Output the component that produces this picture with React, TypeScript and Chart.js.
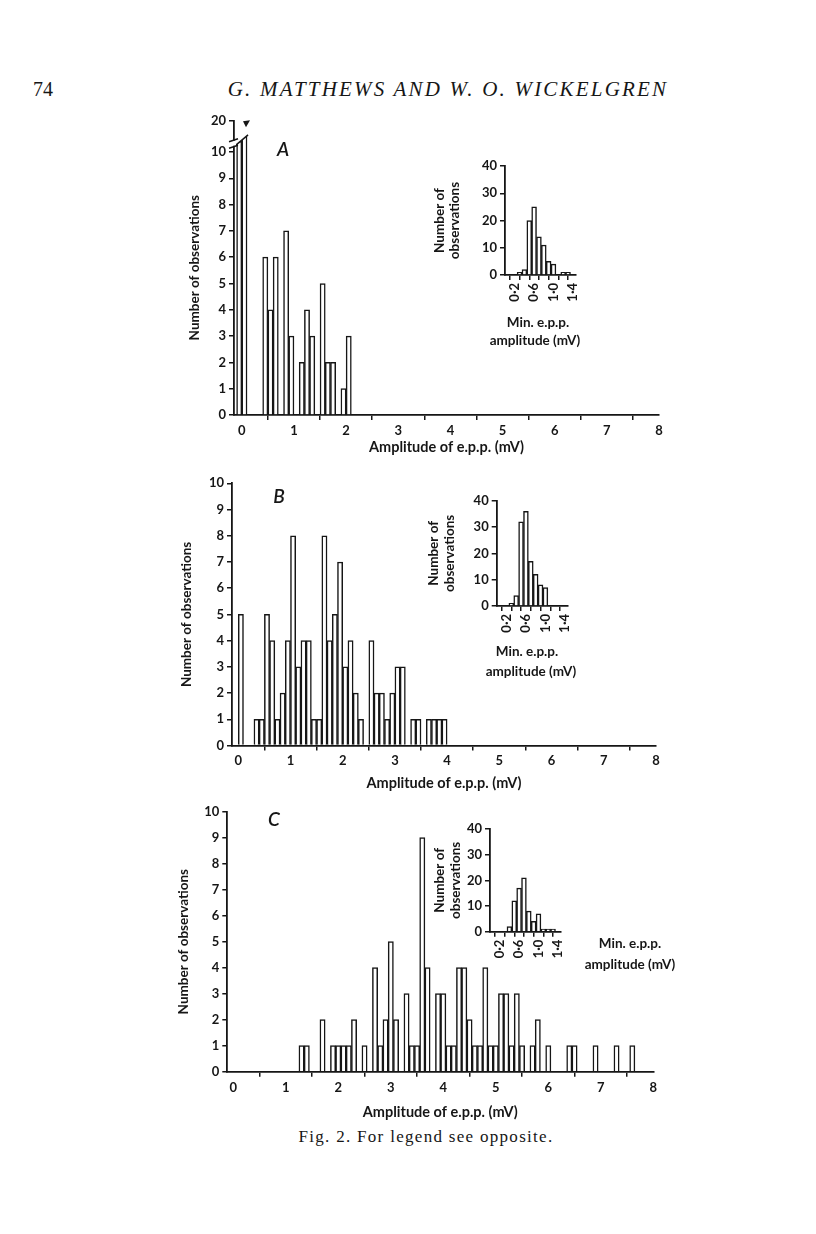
import React, { useEffect, useRef } from 'react';
import { Chart, registerables } from 'chart.js';

Chart.register(...registerables);

const INK = '#161616';
const SANS = 'Lato, "Open Sans", "DejaVu Sans", sans-serif';
const SERIF = '"Liberation Serif", "DejaVu Serif", serif';

// ---------------- data ----------------
const mainXTicks = [0, 1, 2, 3, 4, 5, 6, 7, 8];
const mainYTicks = [0, 1, 2, 3, 4, 5, 6, 7, 8, 9, 10];
const mainYTickLabels = ['0', '1', '2', '3', '4', '5', '6', '7', '8', '9', '10'];
const insetXTicks = [0.2, 0.4, 0.6, 0.8, 1.0, 1.2, 1.4];
const insetXTickLabels = ['0·2', '', '0·6', '', '1·0', '', '1·4'];
const insetYTicks = [0, 10, 20, 30, 40];
const insetYTickLabels = ['0', '10', '20', '30', '40'];

// Panel A (bins = lower edge, mV, width 0.1). First two bars run off the broken axis.
const binsA = [-0.1, 0.0, 0.4, 0.5, 0.6, 0.8, 0.9, 1.1, 1.2, 1.3, 1.5, 1.6, 1.7, 1.9, 2.0];
const countsA = [10.4, 10.6, 6, 4, 6, 7, 3, 2, 4, 3, 5, 2, 2, 1, 3];
const brokenTickA = 11.2;
const brokenTickLabelA = '20';

// Panel B (bins = lower edge, mV)
const binsB = [0.0, 0.3, 0.4, 0.5, 0.6, 0.7, 0.8, 0.9, 1.0, 1.1, 1.2, 1.3, 1.4, 1.5, 1.6, 1.7, 1.8, 1.9, 2.0, 2.1,
  2.2, 2.3, 2.5, 2.6, 2.7, 2.8, 2.9, 3.0, 3.1, 3.3, 3.4, 3.6, 3.7, 3.8, 3.9];
const countsB = [5, 1, 1, 5, 4, 1, 2, 4, 8, 3, 4, 4, 1, 1, 8, 4, 5, 7, 3, 4,
  2, 1, 4, 2, 2, 1, 2, 3, 3, 1, 1, 1, 1, 1, 1];

// Panel C (bins = centre, mV)
const binsC = [1.3, 1.4, 1.7, 1.9, 2.0, 2.1, 2.2, 2.3, 2.5, 2.7, 2.8, 2.9, 3.0, 3.1, 3.3, 3.4, 3.5, 3.6, 3.7, 3.9,
  4.0, 4.1, 4.2, 4.3, 4.4, 4.5, 4.6, 4.7, 4.8, 4.9, 5.0, 5.1, 5.2, 5.3, 5.4, 5.5, 5.7, 5.8, 6.0, 6.4,
  6.5, 6.9, 7.3, 7.6];
const countsC = [1, 1, 2, 1, 1, 1, 1, 2, 1, 4, 1, 2, 5, 2, 3, 1, 1, 9, 4, 3,
  3, 1, 1, 4, 4, 2, 1, 1, 4, 1, 1, 3, 3, 1, 3, 1, 1, 2, 1, 1,
  1, 1, 1, 1];

// Insets: minimum e.p.p. amplitude (bins = centre, mV)
const insetBinsA = [0.3, 0.4, 0.5, 0.6, 0.7, 0.8, 0.9, 1.0, 1.2, 1.3];
const insetCountsA = [1, 2, 20, 25, 14, 11, 5, 4, 1, 1];
const insetBinsB = [0.3, 0.4, 0.5, 0.6, 0.7, 0.8, 0.9, 1.0];
const insetCountsB = [1, 4, 32, 36, 17, 12, 8, 7];
const insetBinsC = [0.4, 0.5, 0.6, 0.7, 0.8, 0.9, 1.0, 1.1, 1.2, 1.3];
const insetCountsC = [2, 12, 17, 21, 8, 4, 7, 1, 1, 1];

const mainYTitle = 'Number of observations';
const mainXTitle = 'Amplitude of e.p.p. (mV)';
const insetYTitle = ['Number of', 'observations'];
const insetXTitle = ['Min. e.p.p.', 'amplitude (mV)'];

// ---------------- chart helper ----------------
type Spec = {
  L: number; T: number; R: number; B: number;
  xMin: number; xMax: number; yMax: number;
  xTicks: number[]; xTickLabels?: string[];
  yTicks: number[]; yTickLabels: string[];
  bins: number[]; counts: number[]; shift: number;
  yTitle: string | string[]; yTitleX: number; yTitleSize: number; yTitleLh: number;
  xTitle?: string | string[]; xTitleY?: number; xTitleSize?: number; xTitleLh?: number;
  xAxisH?: number;
  tickSize: number; rotate?: boolean;
  barBorder: number;
  plugins?: any[];
};

function geometry(s: Spec) {
  const left = Math.floor(s.yTitleX - s.yTitleLh / 2);
  const top = Math.floor(s.T - 14);
  const right = Math.ceil(s.R + 14);
  const nx = Array.isArray(s.xTitle) ? s.xTitle.length : 1;
  const bottom = s.xTitle
    ? Math.ceil((s.xTitleY as number) + (s.xTitleLh as number) / 2 + (s.xTitleLh as number) * (nx - 1))
    : Math.ceil(s.B + (s.xAxisH ?? 40));
  return { left, top, right, bottom, width: right - left, height: bottom - top };
}

function Hist({ spec }: { spec: Spec }) {
  const ref = useRef<HTMLCanvasElement | null>(null);
  const g = geometry(spec);
  useEffect(() => {
    const s = spec;
    const tickFont = { family: SANS, size: s.tickSize, weight: 'bold' as const };
    const nx = Array.isArray(s.xTitle) ? s.xTitle.length : 1;
    const xPb = s.xTitle
      ? g.bottom - (s.xTitleY as number) - (s.xTitleLh as number) / 2 - (s.xTitleLh as number) * (nx - 1)
      : 0;
    const yPt = s.yTitleX - s.yTitleLh / 2 - g.left;
    const chart = new Chart(ref.current as HTMLCanvasElement, {
      type: 'bar',
      data: {
        datasets: [{
          data: s.bins.map((b, i) => ({ x: b + s.shift, y: s.counts[i] })),
          backgroundColor: '#ffffff',
          borderColor: INK,
          borderWidth: s.barBorder,
          barPercentage: 1,
          categoryPercentage: 1,
        }],
      },
      options: {
        animation: false,
        responsive: false,
        maintainAspectRatio: false,
        devicePixelRatio: 1,
        events: [],
        layout: { padding: { left: 0, top: s.T - g.top, right: g.right - s.R, bottom: 0 } },
        plugins: { legend: { display: false }, tooltip: { enabled: false } },
        scales: {
          x: {
            type: 'linear',
            min: s.xMin,
            max: s.xMax,
            offset: false,
            afterBuildTicks: (sc: any) => { sc.ticks = s.xTicks.map((v) => ({ value: v })); },
            afterFit: (sc: any) => { sc.height = g.bottom - s.B; },
            ticks: {
              font: tickFont, color: INK, padding: 3, autoSkip: false,
              maxRotation: s.rotate ? 90 : 0, minRotation: s.rotate ? 90 : 0,
              callback: (v: any, i: number) => (s.xTickLabels ? s.xTickLabels[i] : String(s.xTicks[i])),
            },
            grid: { drawOnChartArea: false, drawTicks: true, tickLength: 5, color: INK, lineWidth: 1.5 },
            border: { display: true, color: INK, width: 1.8 },
            title: s.xTitle
              ? {
                  display: true, text: s.xTitle as any, color: INK,
                  font: { family: SANS, size: s.xTitleSize, weight: 'bold', lineHeight: (s.xTitleLh as number) / (s.xTitleSize as number) },
                  padding: { top: 0, bottom: xPb },
                }
              : { display: false },
          },
          y: {
            type: 'linear',
            min: 0,
            max: s.yMax,
            afterBuildTicks: (sc: any) => { sc.ticks = s.yTicks.map((v) => ({ value: v })); },
            afterFit: (sc: any) => { sc.width = s.L - g.left; },
            ticks: {
              font: tickFont, color: INK, padding: 3, autoSkip: false,
              callback: (v: any, i: number) => s.yTickLabels[i],
            },
            grid: { drawOnChartArea: false, drawTicks: true, tickLength: 5, color: INK, lineWidth: 1.5 },
            border: { display: true, color: INK, width: 1.8 },
            title: {
              display: true, text: s.yTitle as any, color: INK,
              font: { family: SANS, size: s.yTitleSize, weight: 'bold', lineHeight: s.yTitleLh / s.yTitleSize },
              padding: { top: yPt, bottom: 0 },
            },
          },
        },
      } as any,
      plugins: s.plugins ?? [],
    });
    return () => chart.destroy();
  }, []);
  return (
    <canvas
      ref={ref}
      width={g.width}
      height={g.height}
      style={{ position: 'absolute', left: g.left, top: g.top, width: g.width, height: g.height }}
    />
  );
}

// broken-axis marks for panel A
const breakPlugin = {
  id: 'axisBreakA',
  afterDatasetsDraw(chart: any) {
    const { ctx, scales } = chart;
    const x = scales.x, y = scales.y;
    const xa = x.getPixelForValue(-0.1) - 1;
    const xb = x.getPixelForValue(0.1) + 1;
    const yL = y.getPixelForValue(10.25);
    const yR = y.getPixelForValue(10.65);
    const slope = (yR - yL) / (xb - xa);
    ctx.save();
    ctx.fillStyle = '#ffffff';
    ctx.beginPath();
    ctx.moveTo(xa, yL);
    ctx.lineTo(xb, yR);
    ctx.lineTo(xb, y.getPixelForValue(11.0));
    ctx.lineTo(xa, y.getPixelForValue(11.0));
    ctx.closePath();
    ctx.fill();
    ctx.strokeStyle = INK;
    ctx.lineWidth = 1.5;
    ctx.beginPath();
    ctx.moveTo(xa, yL);
    ctx.lineTo(xb, yR);
    ctx.stroke();
    const ax = x.left;
    const g1 = yL + slope * (ax - xa);
    ctx.fillStyle = '#ffffff';
    ctx.fillRect(ax - 2, g1 - 6, 4, 5);
    ctx.beginPath();
    ctx.moveTo(ax - 5, g1 + 1.5);
    ctx.lineTo(ax + 4, g1 - 1.5);
    ctx.moveTo(ax - 5, g1 - 5);
    ctx.lineTo(ax + 4, g1 - 8);
    ctx.stroke();
    const ty = y.getPixelForValue(11.05);
    const tx = x.getPixelForValue(0.08);
    ctx.fillStyle = INK;
    ctx.beginPath();
    ctx.moveTo(tx - 3, ty - 3);
    ctx.lineTo(tx + 4, ty - 4);
    ctx.lineTo(tx, ty + 3);
    ctx.closePath();
    ctx.fill();
    ctx.restore();
  },
};

const mainCommon = {
  xTicks: mainXTicks, yTickLabels: mainYTickLabels, yTitle: mainYTitle, yTitleSize: 13.5, yTitleLh: 16,
  xTitle: mainXTitle, xTitleSize: 14.5, xTitleLh: 17, tickSize: 13, barBorder: 1.5,
};
const insetCommon = {
  xMin: 0, xMax: 1.45, yMax: 40, xTicks: insetXTicks, xTickLabels: insetXTickLabels,
  yTicks: insetYTicks, yTickLabels: insetYTickLabels, yTitle: insetYTitle, yTitleSize: 13.5,
  tickSize: 13, rotate: true, barBorder: 1.5, shift: 0, xAxisH: 38,
};

const specA: Spec = {
  ...mainCommon, L: 234, T: 120.4, R: 659, B: 415, xMin: -0.15, xMax: 8, yMax: brokenTickA,
  yTicks: [...mainYTicks, brokenTickA], yTickLabels: [...mainYTickLabels, brokenTickLabelA],
  bins: binsA, counts: countsA, shift: 0.05, yTitleX: 195, xTitleY: 447, plugins: [breakPlugin],
};
const specB: Spec = {
  ...mainCommon, L: 232, T: 483.3, R: 656, B: 745.5, xMin: -0.12, xMax: 8, yMax: 10,
  yTicks: mainYTicks, bins: binsB, counts: countsB, shift: 0.05, yTitleX: 187, xTitleY: 783,
};
const specC: Spec = {
  ...mainCommon, L: 227.3, T: 811.7, R: 653.3, B: 1071.7, xMin: -0.114, xMax: 8, yMax: 10,
  yTicks: mainYTicks, bins: binsC, counts: countsC, shift: 0, yTitleX: 184, xTitleY: 1112,
};
const insetA: Spec = {
  ...insetCommon, L: 505, T: 166, R: 577.5, B: 275, bins: insetBinsA, counts: insetCountsA,
  yTitleX: 440, yTitleLh: 15,
};
const insetB: Spec = {
  ...insetCommon, L: 496.7, T: 500.7, R: 569.2, B: 606, bins: insetBinsB, counts: insetCountsB,
  yTitleX: 434, yTitleLh: 16,
};
const insetC: Spec = {
  ...insetCommon, L: 490, T: 829, R: 562.5, B: 931.7, bins: insetBinsC, counts: insetCountsC,
  yTitleX: 440, yTitleLh: 16,
};

function Txt(props: { x: number; y: number; children: React.ReactNode; style?: React.CSSProperties }) {
  return (
    <div
      style={{
        position: 'absolute', left: props.x, top: props.y, transform: 'translate(-50%, -50%)',
        whiteSpace: 'nowrap', color: INK, lineHeight: 1, ...props.style,
      }}
    >
      {props.children}
    </div>
  );
}

export default function App() {
  const letter: React.CSSProperties = { fontFamily: SANS, fontStyle: 'italic', fontSize: 19, fontWeight: 600 };
  const insetLbl: React.CSSProperties = { fontFamily: SANS, fontSize: 13.5, fontWeight: 700 };
  return (
    <div style={{ position: 'absolute', left: 0, top: 0, width: 816, height: 1234, background: '#ffffff', overflow: 'hidden' }}>
      <Txt x={43} y={89} style={{ fontFamily: SERIF, fontSize: 20 }}>74</Txt>
      <Txt x={448} y={89} style={{ fontFamily: SERIF, fontSize: 21, fontStyle: 'italic', letterSpacing: 2.2 }}>
        G. MATTHEWS AND W. O. WICKELGREN
      </Txt>

      <Hist spec={specA} />
      <Hist spec={specB} />
      <Hist spec={specC} />
      <Hist spec={insetA} />
      <Hist spec={insetB} />
      <Hist spec={insetC} />

      <Txt x={283} y={148} style={letter}>A</Txt>
      <Txt x={279} y={495} style={letter}>B</Txt>
      <Txt x={274} y={818} style={letter}>C</Txt>

      <Txt x={538} y={323} style={insetLbl}>{insetXTitle[0]}</Txt>
      <Txt x={535} y={341} style={insetLbl}>{insetXTitle[1]}</Txt>
      <Txt x={527} y={652} style={insetLbl}>{insetXTitle[0]}</Txt>
      <Txt x={531} y={672} style={insetLbl}>{insetXTitle[1]}</Txt>
      <Txt x={630} y={944} style={insetLbl}>{insetXTitle[0]}</Txt>
      <Txt x={630} y={965} style={insetLbl}>{insetXTitle[1]}</Txt>

      <Txt x={426} y={1136} style={{ fontFamily: SERIF, fontSize: 17, letterSpacing: 1.3 }}>
        Fig. 2. For legend see opposite.
      </Txt>
    </div>
  );
}
